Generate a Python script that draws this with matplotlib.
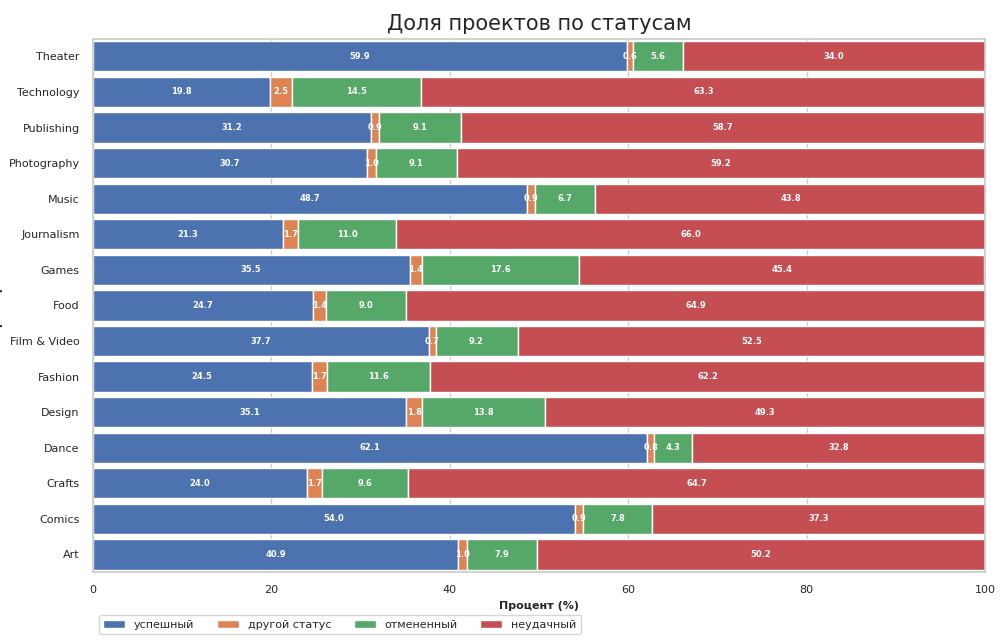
import pandas as pd
import numpy as np
import matplotlib.pyplot as plt
import seaborn as sns

sns.set_theme(style="whitegrid")

# Доли проектов по статусам (%)
df = pd.DataFrame({
    "категория": ["Art", "Comics", "Crafts", "Dance", "Design", "Fashion", "Film & Video",
                  "Food", "Games", "Journalism", "Music", "Photography", "Publishing",
                  "Technology", "Theater"],
    "успешный":      [40.9, 54.0, 24.0, 62.1, 35.1, 24.5, 37.7, 24.7, 35.5, 21.3, 48.7, 30.7, 31.2, 19.8, 59.9],
    "другой статус": [1.0, 0.9, 1.7, 0.8, 1.8, 1.7, 0.7, 1.4, 1.4, 1.7, 0.9, 1.0, 0.9, 2.5, 0.6],
    "отмененный":    [7.9, 7.8, 9.6, 4.3, 13.8, 11.6, 9.2, 9.0, 17.6, 11.0, 6.7, 9.1, 9.1, 14.5, 5.6],
    "неудачный":     [50.2, 37.3, 64.7, 32.8, 49.3, 62.2, 52.5, 64.9, 45.4, 66.0, 43.8, 59.2, 58.7, 63.3, 34.0],
})

statuses = ["успешный", "другой статус", "отмененный", "неудачный"]
colors = sns.color_palette("deep")[:4]

fig, ax = plt.subplots(figsize=(10, 6.43), dpi=100)
left = np.zeros(len(df))
for st, c in zip(statuses, colors):
    bars = ax.barh(df["категория"], df[st], left=left, color=c, edgecolor="white",
                   height=0.85, label=st)
    for b, v in zip(bars, df[st]):
        ax.text(b.get_x() + b.get_width() / 2, b.get_y() + b.get_height() / 2, f"{v:.1f}",
                ha="center", va="center", color="white", fontsize=6, fontweight="bold")
    left += df[st].values

ax.set_xlim(0, 100)
ax.set_ylim(-0.5, len(df) - 0.5)
ax.set_title("Доля проектов по статусам", fontsize=15)
ax.set_xlabel("Процент (%)", fontsize=8, fontweight="bold")
ax.set_ylabel("Категории проектов", fontsize=8, fontweight="bold")
ax.tick_params(labelsize=8)
ax.grid(axis="y", visible=False)
ax.legend(loc="upper left", bbox_to_anchor=(0, -0.07), ncol=4, fontsize=8, frameon=True)
plt.subplots_adjust(left=0.093, right=0.985, top=0.94, bottom=0.11)
plt.savefig("out.png")
